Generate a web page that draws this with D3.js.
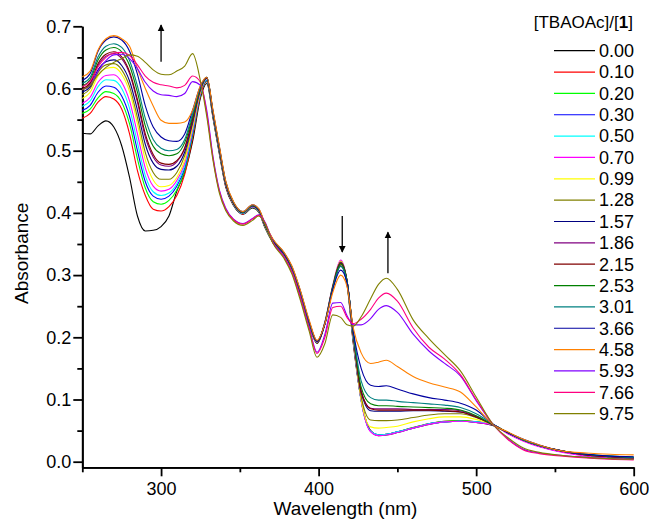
<!DOCTYPE html>
<html>
<head>
<meta charset="utf-8">
<script src="https://cdn.jsdelivr.net/npm/d3@7"></script>
<style>
  body { margin: 0; background: #fff; }
  text { font-family: "Liberation Sans", Arial, sans-serif; fill: #000; }
  .axis path, .axis line { stroke: #000; stroke-width: 1.8; }
  .axis text { font-size: 18px; }
</style>
</head>
<body>
<div id="graph"></div>
<script>
// wavelength grid (nm) shared by every spectrum
var wavelengths = [250,255,260,265,270,275,280,285,290,295,300,305,310,315,320,325,
  329,333,337,341,346,352,358,362,366,371,378,383,388,394,399,
  404,409,414,418,422,427,433,438,443,450,
  460,470,480,490,500,511,
  520,530,540,555,570,585,600];

var ratios = ["0.00","0.10","0.20","0.30","0.50","0.70","0.99","1.28","1.57","1.86","2.15","2.53","3.01","3.66","4.58","5.93","7.66","9.75"];

var colors = ["#000000","#ff0000","#00ff00","#0000ff","#00ffff","#ff00ff","#ffff00","#808000","#000080",
  "#800080","#800000","#008000","#008080","#0000a0","#ff8000","#8000ff","#ff0080","#808000"];

// absorbance, one array per [TBAOAc]/[1] ratio
var s000 = [0.528,0.527,0.540,0.548,0.538,0.508,0.457,0.395,0.371,0.372,0.378,0.395,0.435,0.465,0.515,0.585,
  0.608,0.552,0.495,0.442,0.412,0.398,0.408,0.401,0.376,0.352,0.331,0.307,0.270,0.220,0.190,
  0.222,0.278,0.315,0.285,0.190,0.100,0.050,0.042,0.043,0.047,
  0.054,0.060,0.064,0.065,0.063,0.058,
  0.046,0.034,0.025,0.016,0.010,0.007,0.005];
var s010 = [0.552,0.560,0.578,0.587,0.583,0.567,0.527,0.468,0.428,0.406,0.403,0.410,0.428,0.462,0.520,0.588,
  0.611,0.554,0.497,0.444,0.413,0.398,0.409,0.402,0.377,0.353,0.332,0.308,0.271,0.221,0.191,
  0.223,0.280,0.318,0.287,0.193,0.100,0.050,0.043,0.044,0.048,
  0.055,0.061,0.065,0.066,0.064,0.059,
  0.046,0.034,0.025,0.016,0.010,0.007,0.006];
var s020 = [0.560,0.567,0.585,0.595,0.592,0.578,0.543,0.487,0.440,0.418,0.414,0.420,0.437,0.468,0.525,0.590,
  0.612,0.555,0.498,0.445,0.413,0.399,0.409,0.402,0.377,0.353,0.332,0.309,0.272,0.221,0.191,
  0.224,0.281,0.320,0.288,0.195,0.099,0.049,0.043,0.044,0.048,
  0.055,0.061,0.065,0.066,0.064,0.059,
  0.046,0.034,0.025,0.016,0.010,0.007,0.006];
var s030 = [0.565,0.573,0.594,0.604,0.602,0.588,0.555,0.500,0.450,0.427,0.422,0.427,0.443,0.472,0.528,0.592,
  0.613,0.556,0.499,0.445,0.414,0.399,0.410,0.403,0.378,0.354,0.333,0.309,0.272,0.222,0.192,
  0.224,0.282,0.321,0.289,0.196,0.099,0.049,0.043,0.044,0.048,
  0.054,0.061,0.064,0.065,0.064,0.059,
  0.046,0.034,0.025,0.016,0.010,0.007,0.006];
var s050 = [0.571,0.580,0.603,0.614,0.613,0.600,0.568,0.513,0.460,0.434,0.428,0.432,0.447,0.476,0.531,0.593,
  0.614,0.557,0.500,0.446,0.414,0.399,0.410,0.403,0.378,0.354,0.333,0.310,0.273,0.222,0.192,
  0.225,0.283,0.322,0.290,0.197,0.098,0.049,0.043,0.044,0.048,
  0.054,0.061,0.064,0.065,0.064,0.059,
  0.046,0.034,0.025,0.016,0.010,0.007,0.006];
var s070 = [0.576,0.586,0.610,0.621,0.622,0.610,0.580,0.527,0.472,0.443,0.435,0.438,0.452,0.480,0.534,0.594,
  0.616,0.558,0.501,0.446,0.414,0.400,0.410,0.403,0.378,0.354,0.333,0.310,0.273,0.222,0.192,
  0.225,0.284,0.324,0.291,0.198,0.098,0.048,0.042,0.043,0.047,
  0.054,0.060,0.064,0.065,0.063,0.059,
  0.045,0.033,0.024,0.015,0.009,0.006,0.005];
var s099 = [0.584,0.594,0.620,0.632,0.634,0.623,0.595,0.543,0.485,0.453,0.442,0.444,0.457,0.485,0.538,0.596,
  0.617,0.559,0.502,0.447,0.415,0.400,0.411,0.404,0.379,0.355,0.334,0.311,0.274,0.223,0.193,
  0.224,0.283,0.322,0.291,0.200,0.100,0.056,0.054,0.055,0.057,
  0.064,0.069,0.072,0.072,0.068,0.059,
  0.047,0.035,0.026,0.017,0.011,0.008,0.006];
var s128 = [0.590,0.600,0.626,0.638,0.640,0.630,0.603,0.553,0.497,0.465,0.454,0.454,0.465,0.492,0.543,0.597,
  0.617,0.559,0.502,0.447,0.415,0.400,0.411,0.404,0.379,0.355,0.334,0.311,0.274,0.223,0.193,
  0.223,0.282,0.321,0.291,0.202,0.105,0.067,0.066,0.066,0.067,
  0.071,0.075,0.077,0.077,0.071,0.059,
  0.047,0.035,0.026,0.017,0.011,0.008,0.006];
var s157 = [0.594,0.603,0.630,0.643,0.646,0.637,0.612,0.565,0.510,0.480,0.470,0.469,0.475,0.498,0.546,0.599,
  0.617,0.560,0.503,0.448,0.415,0.400,0.411,0.404,0.380,0.355,0.334,0.311,0.275,0.223,0.193,
  0.223,0.281,0.320,0.291,0.204,0.112,0.082,0.081,0.081,0.081,
  0.082,0.082,0.081,0.080,0.072,0.059,
  0.047,0.035,0.026,0.017,0.011,0.008,0.006];
var s186 = [0.598,0.607,0.637,0.652,0.656,0.648,0.624,0.578,0.522,0.490,0.477,0.475,0.482,0.503,0.549,0.600,
  0.617,0.560,0.503,0.448,0.416,0.401,0.412,0.405,0.380,0.356,0.335,0.312,0.275,0.224,0.193,
  0.223,0.281,0.320,0.291,0.205,0.114,0.086,0.085,0.085,0.085,
  0.084,0.084,0.084,0.082,0.073,0.059,
  0.047,0.035,0.026,0.017,0.011,0.008,0.006];
var s215 = [0.600,0.609,0.640,0.655,0.659,0.651,0.627,0.582,0.527,0.494,0.480,0.478,0.484,0.505,0.551,0.600,
  0.617,0.560,0.503,0.448,0.416,0.401,0.412,0.405,0.380,0.356,0.335,0.312,0.275,0.224,0.193,
  0.222,0.280,0.319,0.291,0.205,0.113,0.085,0.083,0.083,0.083,
  0.083,0.083,0.082,0.080,0.072,0.059,
  0.047,0.035,0.026,0.017,0.011,0.008,0.006];
var s253 = [0.604,0.614,0.646,0.662,0.666,0.659,0.637,0.594,0.540,0.507,0.495,0.492,0.495,0.513,0.555,0.601,
  0.618,0.561,0.504,0.449,0.416,0.401,0.412,0.405,0.381,0.356,0.335,0.312,0.276,0.224,0.194,
  0.222,0.280,0.318,0.291,0.207,0.120,0.093,0.090,0.090,0.089,
  0.088,0.087,0.086,0.083,0.074,0.059,
  0.047,0.035,0.026,0.017,0.012,0.009,0.007];
var s301 = [0.608,0.618,0.651,0.668,0.672,0.666,0.645,0.604,0.552,0.518,0.504,0.500,0.502,0.518,0.559,0.602,
  0.618,0.562,0.505,0.450,0.417,0.401,0.412,0.406,0.381,0.357,0.336,0.313,0.277,0.225,0.194,
  0.222,0.279,0.314,0.290,0.208,0.130,0.103,0.099,0.099,0.097,
  0.095,0.093,0.091,0.087,0.077,0.060,
  0.047,0.035,0.026,0.017,0.012,0.009,0.007];
var s366 = [0.613,0.624,0.660,0.678,0.683,0.678,0.660,0.623,0.572,0.538,0.522,0.516,0.515,0.527,0.565,0.604,
  0.618,0.563,0.506,0.451,0.417,0.402,0.413,0.406,0.382,0.357,0.336,0.314,0.278,0.226,0.194,
  0.221,0.277,0.308,0.288,0.210,0.150,0.123,0.121,0.122,0.117,
  0.109,0.103,0.099,0.094,0.083,0.060,
  0.047,0.036,0.027,0.017,0.012,0.009,0.008];
var s458 = [0.619,0.628,0.662,0.680,0.685,0.680,0.668,0.632,0.600,0.572,0.549,0.544,0.544,0.546,0.565,0.605,
  0.618,0.565,0.508,0.452,0.418,0.402,0.413,0.407,0.383,0.358,0.337,0.315,0.279,0.228,0.195,
  0.222,0.272,0.300,0.282,0.215,0.175,0.158,0.160,0.163,0.153,
  0.137,0.127,0.120,0.112,0.088,0.059,
  0.048,0.036,0.027,0.017,0.014,0.012,0.011];
var s593 = [0.598,0.605,0.628,0.645,0.654,0.655,0.648,0.632,0.610,0.596,0.590,0.589,0.587,0.592,0.611,0.605,
  0.565,0.490,0.437,0.408,0.390,0.383,0.391,0.397,0.385,0.353,0.330,0.306,0.268,0.216,0.176,
  0.205,0.255,0.256,0.235,0.220,0.220,0.230,0.245,0.251,0.240,
  0.205,0.178,0.158,0.138,0.098,0.059,
  0.037,0.020,0.014,0.010,0.007,0.005,0.004];
var s766 = [0.603,0.612,0.635,0.650,0.657,0.658,0.653,0.638,0.620,0.610,0.606,0.604,0.601,0.605,0.620,0.610,
  0.560,0.487,0.435,0.406,0.389,0.382,0.390,0.396,0.384,0.352,0.329,0.305,0.267,0.214,0.174,
  0.200,0.248,0.250,0.232,0.222,0.229,0.245,0.263,0.271,0.258,
  0.215,0.184,0.165,0.140,0.100,0.059,
  0.036,0.019,0.013,0.009,0.006,0.004,0.003];
var s975 = [0.598,0.605,0.622,0.634,0.642,0.648,0.654,0.652,0.642,0.630,0.623,0.622,0.628,0.636,0.656,0.612,
  0.555,0.484,0.432,0.404,0.387,0.380,0.388,0.395,0.383,0.351,0.327,0.302,0.263,0.210,0.168,
  0.190,0.236,0.232,0.220,0.218,0.233,0.262,0.285,0.295,0.277,
  0.228,0.198,0.172,0.146,0.104,0.059,
  0.039,0.022,0.015,0.010,0.007,0.005,0.004];

var spectra = [s000,s010,s020,s030,s050,s070,s099,s128,s157,s186,s215,s253,s301,s366,s458,s593,s766,s975];

var xTicks = [300,400,500,600];
var xMinor = [250,350,450,550];
var yTicks = [0,0.1,0.2,0.3,0.4,0.5,0.6,0.7];
var yMinor = [0.05,0.15,0.25,0.35,0.45,0.55,0.65];

// arrows: [wavelength, from absorbance, to absorbance]
var arrows = [[300,0.643,0.702],[415,0.395,0.337],[444,0.303,0.369]];

var width = 649, height = 521;

var chart = d3.select("#graph").append("svg")
    .attr("width", width)
    .attr("height", height);

var xScale = d3.scaleLinear().domain([250, 600]).range([82.3, 633.7]);
var yScale = d3.scaleLinear().domain([-0.009, 0.7]).range([467.3, 26.3]);

//Create X axis
chart.append("g")
    .attr("class", "axis")
    .attr("transform", "translate(0," + yScale(-0.009) + ")")
    .call(d3.axisBottom(xScale).tickValues(xTicks).tickSize(9).tickSizeOuter(0).tickPadding(6).tickFormat(d3.format("d")));
chart.append("g")
    .attr("class", "axis")
    .attr("transform", "translate(0," + yScale(-0.009) + ")")
    .call(d3.axisBottom(xScale).tickValues(xMinor).tickSize(5).tickSizeOuter(0).tickFormat(""));

//Create Y axis
chart.append("g")
    .attr("class", "axis")
    .attr("transform", "translate(" + xScale(250) + ",0)")
    .call(d3.axisLeft(yScale).tickValues(yTicks).tickSize(9).tickSizeOuter(0).tickPadding(2).tickFormat(d3.format(".1f")));
chart.append("g")
    .attr("class", "axis")
    .attr("transform", "translate(" + xScale(250) + ",0)")
    .call(d3.axisLeft(yScale).tickValues(yMinor).tickSize(5).tickSizeOuter(0).tickFormat(""));

chart.append("text")
    .attr("x", xScale(417))
    .attr("y", 515)
    .attr("text-anchor", "middle")
    .style("font-size", "19px")
    .text("Wavelength (nm)");

chart.append("text")
    .attr("transform", "translate(28," + yScale(0.335) + ") rotate(-90)")
    .attr("text-anchor", "middle")
    .style("font-size", "19px")
    .text("Absorbance");

//Create lines
var line = d3.line()
    .x(function(d, i) { return xScale(wavelengths[i]); })
    .y(function(d) { return yScale(d); })
    .curve(d3.curveMonotoneX);

chart.append("g").selectAll("path")
    .data(spectra)
    .enter()
    .append("path")
    .attr("d", line)
    .attr("fill", "none")
    .attr("stroke", function(d, i) { return colors[i]; })
    .attr("stroke-width", 1.1);

//Arrows
chart.append("defs").append("marker")
    .attr("id", "head")
    .attr("viewBox", "0 0 10 10")
    .attr("refX", 9).attr("refY", 5)
    .attr("markerWidth", 7).attr("markerHeight", 9)
    .attr("markerUnits", "userSpaceOnUse")
    .attr("orient", "auto")
    .append("path")
    .attr("d", "M0,0L10,5L0,10Z")
    .attr("fill", "#000");

chart.append("g").selectAll("line")
    .data(arrows)
    .enter()
    .append("line")
    .attr("x1", function(d) { return xScale(d[0]); })
    .attr("x2", function(d) { return xScale(d[0]); })
    .attr("y1", function(d) { return yScale(d[1]); })
    .attr("y2", function(d) { return yScale(d[2]); })
    .attr("stroke", "#000")
    .attr("stroke-width", 1.3)
    .attr("marker-end", "url(#head)");

//Legend
var legend = chart.append("g").attr("class", "legend");
var title = legend.append("text")
    .attr("x", 633)
    .attr("y", 28)
    .attr("text-anchor", "end")
    .style("font-size", "17px");
title.append("tspan").text("[TBAOAc]/[");
title.append("tspan").style("font-weight", "bold").text("1");
title.append("tspan").text("]");

var rows = legend.selectAll("g.row")
    .data(ratios)
    .enter()
    .append("g")
    .attr("class", "row")
    .attr("transform", function(d, i) { return "translate(0," + (50.7 + i * 21.35) + ")"; });
rows.append("line")
    .attr("x1", 554).attr("x2", 595)
    .attr("y1", 0).attr("y2", 0)
    .attr("stroke", function(d, i) { return colors[i]; })
    .attr("stroke-width", 1.2);
rows.append("text")
    .attr("x", 599)
    .attr("y", 0)
    .attr("dy", "0.35em")
    .style("font-size", "18px")
    .text(function(d) { return d; });
</script>
</body>
</html>
